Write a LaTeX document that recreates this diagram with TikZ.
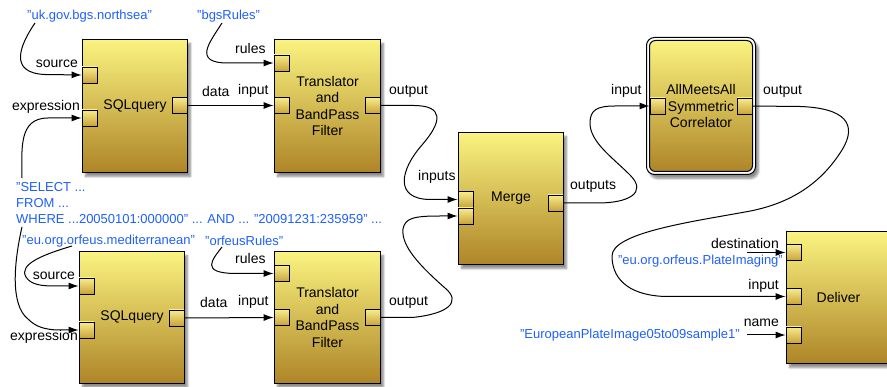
\documentclass[tikz,border=0pt]{standalone}
\usepackage{fontspec}
\setmainfont{Liberation Sans}
\usetikzlibrary{arrows.meta,shadows.blur}

\definecolor{boxtop}{RGB}{250,243,128}
\definecolor{boxbot}{RGB}{174,133,40}
\definecolor{porttop}{RGB}{248,236,140}
\definecolor{portbot}{RGB}{200,163,58}
\definecolor{valblue}{RGB}{30,95,250}

\begin{document}
\begin{tikzpicture}[x=1pt,y=-1pt,
  font=\fontsize{14}{16.5}\selectfont,
  actor/.style={draw=black, line width=1pt, top color=boxtop, bottom color=boxbot,
    anchor=north west, inner sep=0pt, align=center,
    blur shadow={shadow xshift=3pt, shadow yshift=-4pt, shadow blur steps=6, shadow opacity=45}},
  port/.style={draw=black, line width=0.8pt, top color=porttop, bottom color=portbot,
    minimum width=15pt, minimum height=16pt, inner sep=0pt},
  lbl/.style={inner sep=0pt, text=black},
  val/.style={inner sep=0pt, text=valblue, font=\fontsize{13}{15.7}\selectfont},
  wire/.style={draw=black, line width=1pt, -{Latex[length=10pt,width=7pt]}},
]
\useasboundingbox (0,0) rectangle (887,387);

% ---------------- actors ----------------
\node[actor, minimum width=105pt, minimum height=133pt] (sq1) at (82,39) {SQLquery};
\node[actor, minimum width=106pt, minimum height=133pt] (tr1) at (274,39) {Translator\\and\\BandPass\\Filter};
\node[actor, minimum width=105pt, minimum height=132pt] (sq2) at (79,251) {SQLquery};
\node[actor, minimum width=106pt, minimum height=132pt] (tr2) at (274,251) {Translator\\and\\BandPass\\Filter};
\node[actor, minimum width=105pt, minimum height=132pt] (mg) at (458,132) {Merge};
\node[draw=black, line width=1pt, fill=white, rounded corners=8pt, anchor=north west,
  minimum width=109pt, minimum height=137pt, inner sep=0pt,
  blur shadow={shadow xshift=3pt, shadow yshift=-4pt, shadow blur steps=6, shadow opacity=45}] (amaframe) at (646,37) {};
\node[draw=black, line width=1pt, top color=boxtop, bottom color=boxbot, anchor=north west,
  inner sep=0pt, align=center, rounded corners=6pt, minimum width=103pt, minimum height=131pt] (ama) at (649,40) {AllMeetsAll\\Symmetric\\Correlator};
\node[actor, minimum width=104pt, minimum height=132pt] (dl) at (786,231) {Deliver};

% ---------------- ports ----------------
\node[port] (sq1src)  at (89.5,75) {};
\node[port] (sq1expr) at (89.5,118) {};
\node[port] (sq1out)  at (179.5,105.5) {};
\node[port] (tr1rules) at (281.5,63) {};
\node[port] (tr1in)   at (281.5,105.5) {};
\node[port] (tr1out)  at (372.5,105.5) {};
\node[port] (sq2src)  at (86.5,286) {};
\node[port] (sq2expr) at (86.5,330) {};
\node[port] (sq2out)  at (176.5,318) {};
\node[port] (tr2rules) at (281.5,273.5) {};
\node[port] (tr2in)   at (281.5,317.5) {};
\node[port] (tr2out)  at (372.5,317.5) {};
\node[port] (mgin1)   at (465.5,199.5) {};
\node[port] (mgin2)   at (465.5,216) {};
\node[port] (mgout)   at (555.5,203) {};
\node[port] (amain)   at (657.5,106) {};
\node[port] (amaout)  at (744.5,106) {};
\node[port] (dldest)  at (793.5,252.5) {};
\node[port] (dlin)    at (793.5,296.5) {};
\node[port] (dlname)  at (793.5,335) {};

% ---------------- port labels ----------------
\node[lbl, anchor=east] (lsrc1)  at (78,64) {source};
\node[lbl, anchor=east] (lexpr1) at (80,107) {expression};
\node[lbl, anchor=west] (ldata1) at (202,91) {data};
\node[lbl, anchor=west] (lin1)   at (238,91) {input};
\node[lbl, anchor=west] (lrul1)  at (235,48) {rules};
\node[lbl, anchor=west] (lout1)  at (389,91) {output};
\node[lbl, anchor=east] (lsrc2)  at (75,276) {source};
\node[lbl, anchor=east] (lexpr2) at (78,337) {expression};
\node[lbl, anchor=west] (ldata2) at (200,302) {data};
\node[lbl, anchor=west] (lin2)   at (238,302) {input};
\node[lbl, anchor=west] (lrul2)  at (235,258) {rules};
\node[lbl, anchor=west] (lout2)  at (389,302) {output};
\node[lbl, anchor=west] (lmgin)  at (418,177) {inputs};
\node[lbl, anchor=west] (lmgout) at (570,186) {outputs};
\node[lbl, anchor=west] (lamain) at (611,91) {input};
\node[lbl, anchor=west] (lamaout) at (763,91) {output};
\node[lbl, anchor=east] (ldest)  at (779,243) {destination};
\node[lbl, anchor=east] (ldlin)  at (779,286) {input};
\node[lbl, anchor=east] (lname)  at (779,323) {name};

% ---------------- constant values ----------------
\node[val, anchor=west] (vsea)   at (27,16) {"uk.gov.bgs.northsea"};
\node[val, anchor=west] (vbgs)   at (197,16) {"bgsRules"};
\node[val, anchor=west, align=left] (vquery) at (16,203)
  {"SELECT ...\\FROM ...\\WHERE ...20050101:000000" ... AND ... "20091231:235959" ...};
\node[val, anchor=west] (vmed)   at (22,241) {"eu.org.orfeus.mediterranean"};
\node[val, anchor=west] (vorf)   at (205,241) {"orfeusRules"};
\node[val, anchor=east] (vplate) at (783,261) {"eu.org.orfeus.PlateImaging"};
\node[val, anchor=east] (vname)  at (740,335) {"EuropeanPlateImage05to09sample1"};

% ---------------- wire end points at the values ----------------
\coordinate (wsea)  at (35,23);
\coordinate (wbgs)  at (222,23);
\coordinate (wq1)   at (22,178);
\coordinate (wq2)   at (22,227);
\coordinate (wmed)  at (72,246);
\coordinate (worf)  at (222,247);
\coordinate (wdest) at (747,252.5);
\coordinate (wname) at (747,335);

% ---------------- connectors ----------------
\draw[wire] (wsea) .. controls (20,45) and (8,73) .. (45,74.5) -- (sq1src.west);
\draw[wire] (wbgs) .. controls (210,42) and (192,63) .. (228,63) -- (tr1rules.west);
\draw[wire] (wq1) .. controls (22,150) and (18,118) .. (48,118) -- (sq1expr.west);
\draw[wire] (sq1out.east) -- (tr1in.west);

\draw[wire] (wmed) .. controls (45,254) and (18,264) .. (26,277) .. controls (31,285) and (42,286) .. (55,286) -- (sq2src.west);
\draw[wire] (wq2) .. controls (14,262) and (10,305) .. (28,319) .. controls (36,327) and (44,329) .. (56,330) -- (sq2expr.west);
\draw[wire] (worf) .. controls (212,260) and (200,273) .. (235,273.5) -- (tr2rules.west);
\draw[wire] (sq2out.east) -- (tr2in.west);

\draw[wire] (tr1out.east) -- (412,105.5) .. controls (445,105) and (442,122) .. (422,145)
  .. controls (400,170) and (394,199) .. (430,199.5) -- (mgin1.west);
\draw[wire] (tr2out.east) -- (412,317.5) .. controls (448,314) and (462,302) .. (445,288)
  .. controls (420,266) and (401,246) .. (403,229) .. controls (405,218) and (414,216) .. (440,216) -- (mgin2.west);

\draw[wire] (mgout.east) -- (598,203) .. controls (628,203) and (648,193) .. (630,175)
  .. controls (612,157) and (590,142) .. (590,123) .. controls (590,110) and (597,106) .. (615,106) -- (amain.west);

\draw[wire] (amaout.east) -- (800,106.5) .. controls (845,108) and (858,124) .. (842,150)
  .. controls (822,182) and (792,204) .. (745,212) .. controls (690,222) and (612,233) .. (612,256)
  .. controls (612,276) and (625,295) .. (665,296.5) -- (dlin.west);

\draw[wire] (wdest) -- (dldest.west);
\draw[wire] (wname) -- (dlname.west);
\end{tikzpicture}
\end{document}
